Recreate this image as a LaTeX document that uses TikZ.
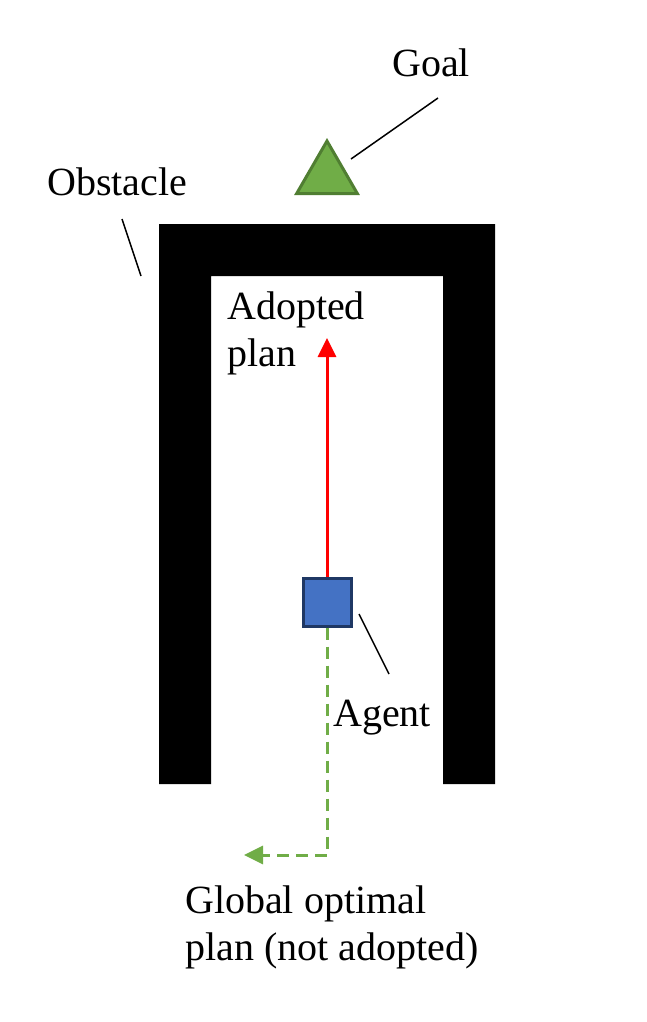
\documentclass[tikz,border=0pt]{standalone}
\usepackage{fontspec}
\setmainfont{Liberation Serif}
\usetikzlibrary{shapes.geometric,arrows.meta,positioning}
\definecolor{goalgreen}{HTML}{70AD47}
\definecolor{goaledge}{HTML}{507E32}
\definecolor{agentblue}{HTML}{4472C4}
\definecolor{agentedge}{HTML}{1F3864}

\begin{document}
\begin{tikzpicture}[x=1pt,y=-1pt,
    lbl/.style={font=\fontsize{40}{47}\selectfont, inner sep=0pt, align=left, anchor=base west},
    leader/.style={line width=1.5pt},
    plantip/.style={-{Triangle[length=19pt,width=18pt]}}]
    \useasboundingbox (0,0) rectangle (646,1022);

    % Obstacle (U shape)
    \fill[black] (159,224) -- (495,224) -- (495,784) -- (443,784) -- (443,276)
        -- (211,276) -- (211,784) -- (159,784) -- cycle;

    % Goal and agent
    \node[draw=goaledge, fill=goalgreen, line width=3pt, regular polygon, regular polygon sides=3,
        minimum size=70pt, inner sep=0pt] (goal) at (327,176) {};
    \node[draw=agentedge, fill=agentblue, line width=3pt, minimum size=48pt, inner sep=0pt] (agent) at (327,602) {};

    % Plans
    \coordinate (adoptedend) at (327,338);
    \coordinate (globalend) at (244,855);
    \draw[red, line width=3pt, plantip] (agent.north) -- (adoptedend);
    \draw[goalgreen, line width=3pt, dash pattern=on 12pt off 7pt, plantip] (agent.south) |- (globalend);

    % Labels (base = last line)
    \node[lbl] (goallbl) at (392,77) {Goal};
    \node[lbl] (obstlbl) at (47,195) {Obstacle};
    \node[lbl] (adoptlbl) at (227,366) {Adopted\\plan};
    \node[lbl] (agentlbl) at (333,726) {Agent};
    \node[lbl] (globallbl) at (185,960) {Global optimal\\plan (not adopted)};

    % Leader lines
    \coordinate (g1) at (438,98);
    \coordinate (g2) at (351,159);
    \coordinate (o1) at (122,219);
    \coordinate (o2) at (141,276);
    \coordinate (a1) at (359,614);
    \coordinate (a2) at (389,674);
    \draw[leader] (g1) -- (g2);
    \draw[leader] (o1) -- (o2);
    \draw[leader] (a1) -- (a2);
\end{tikzpicture}
\end{document}
